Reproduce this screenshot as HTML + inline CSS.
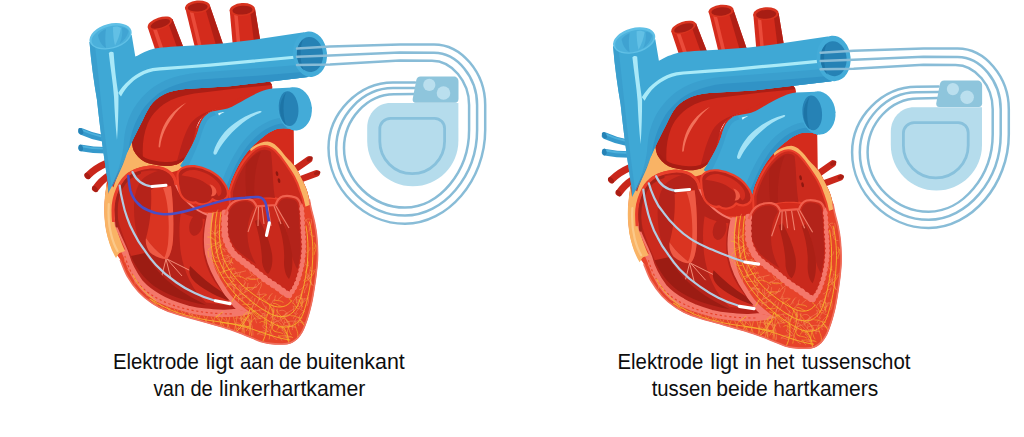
<!DOCTYPE html>
<html lang="nl">
<head>
<meta charset="utf-8">
<title>Elektrode positie</title>
<style>
html,body{margin:0;padding:0;background:#fff;}
body{width:1024px;height:437px;overflow:hidden;font-family:"Liberation Sans",sans-serif;}
svg{display:block;}
text{font-family:"Liberation Sans",sans-serif;fill:#0d0d0d;}
</style>
</head>
<body>
<svg width="1024" height="437" viewBox="0 0 1024 437">
<defs>
<clipPath id="wallclip"><path d="M107,182 C106.6,185.8 104.8,197.8 104.5,205.0 C104.2,212.2 104.8,219.5 105.5,225.0 C106.2,230.5 107.4,234.1 108.5,238.0 C109.6,241.9 110.7,245.8 112.0,248.5 C113.3,251.2 115.1,252.5 116.5,254.5 C117.9,256.5 118.8,256.9 120.6,260.5 C122.4,264.1 124.4,271.0 127.5,276.3 C130.6,281.6 134.8,287.7 139.0,292.3 C143.2,296.9 147.7,300.4 152.6,303.7 C157.5,306.9 160.7,308.9 168.6,311.8 C176.5,314.7 189.8,318.0 200.0,321.0 C210.2,324.0 221.3,326.9 230.0,329.8 C238.7,332.7 246.7,336.2 252.0,338.3 C257.3,340.4 258.9,341.3 262.0,342.2 C265.1,343.1 266.9,343.5 270.3,343.9 C273.7,344.3 279.2,344.6 282.6,344.5 C286.0,344.4 288.4,344.2 290.9,343.2 C293.4,342.2 295.8,340.6 297.7,338.7 C299.6,336.8 301.3,334.2 302.6,331.9 C303.9,329.6 304.6,327.6 305.6,325.0 C306.6,322.4 307.6,319.3 308.6,316.0 C309.6,312.7 310.6,308.8 311.5,305.0 C312.4,301.2 313.1,297.2 313.8,293.0 C314.5,288.8 315.2,284.2 315.8,280.0 C316.4,275.8 316.8,272.2 317.2,268.0 C317.6,263.8 318.0,260.3 318.0,255.0 C318.0,249.7 317.5,241.6 317.0,236.2 C316.5,230.8 315.7,227.1 314.8,222.5 C313.9,217.9 312.2,212.4 311.4,208.7 C310.5,204.9 310.0,201.4 309.7,200.0 C307.7,194.2 305.8,190.0 305.0,188.0 L300,204 L205,209 L205,252 L100,252 Z"/></clipPath>
<g id="heart">
<!-- small side vessels (behind) -->
<g stroke-linecap="round" fill="none">
  <path d="M81.500,131.500 C88,134.500 96,137 104,138.600" stroke="#3599cb" stroke-width="6.600"/>
  <path d="M81.500,148 C89,149.500 98,150.300 106,150.300" stroke="#3599cb" stroke-width="6.600"/>
  <path d="M82,130 C88,132.800 95,135 101,136.300" stroke="#4cb0dc" stroke-width="1.800"/>
  <path d="M82,146.300 C89,147.800 96,148.500 103,148.600" stroke="#4cb0dc" stroke-width="1.800"/>
  <ellipse cx="80.800" cy="131.200" rx="2.200" ry="3.400" transform="rotate(-25 80.800 131.200)" fill="#2682b5" stroke="none"/>
  <ellipse cx="80.800" cy="147.800" rx="2.200" ry="3.400" transform="rotate(-10 80.800 147.800)" fill="#2682b5" stroke="none"/>
  <path d="M88,175.500 C93,170.500 99,166.500 106,163.500" stroke="#c9271b" stroke-width="7"/>
  <path d="M95.500,188.500 C99,183.500 103.500,179 109,175.500" stroke="#c9271b" stroke-width="7"/>
  <ellipse cx="87.400" cy="176" rx="2.200" ry="3.600" transform="rotate(-40 87.400 176)" fill="#a81d14" stroke="none"/>
  <ellipse cx="95" cy="189" rx="2.200" ry="3.600" transform="rotate(-38 95 189)" fill="#a81d14" stroke="none"/>
  <path d="M294,170 L309,159.500" stroke="#c9271b" stroke-width="6.800"/>
  <path d="M300,179.500 L316.500,173.300" stroke="#c9271b" stroke-width="6.600"/>
  <ellipse cx="309.700" cy="159" rx="2" ry="3.400" transform="rotate(55 309.700 159)" fill="#a81d14" stroke="none"/>
  <ellipse cx="317.200" cy="173" rx="2" ry="3.300" transform="rotate(69 317.200 173)" fill="#a81d14" stroke="none"/>
</g>
<!-- top arteries -->
<g>
  <path d="M147.6,27 L160,64 L186,54 L172.4,19 Z" fill="#d42b1c"/>
  <path d="M167.500,21 L180.500,57 L186,54 L172.400,19 Z" fill="#b01f15"/>
  <path d="M152.5,28 L164,62 L167.5,60.5 L156,27 Z" fill="#ea4b3a"/>
  <ellipse cx="160" cy="23.300" rx="12.800" ry="5.800" transform="rotate(-18 160 23.300)" fill="#d8331f"/><ellipse cx="160.300" cy="23.800" rx="10.200" ry="3.900" transform="rotate(-18 160.300 23.800)" fill="#a81d14"/>
  <path d="M185,7 L196,52 L224,47 L210,6 Z" fill="#d42b1c"/>
  <path d="M205,7.500 L217,48.500 L224,47 L210,6 Z" fill="#b01f15"/>
  <path d="M189.5,11 L199,50 L202.5,49.5 L193,10.5 Z" fill="#ea4b3a"/>
  <ellipse cx="197.500" cy="6.800" rx="12.600" ry="6.200" transform="rotate(-5 197.500 6.800)" fill="#d8331f"/><ellipse cx="197.700" cy="7.300" rx="10" ry="4.200" transform="rotate(-5 197.700 7.300)" fill="#a81d14"/>
  <path d="M229.7,10 L233,48 L261,45 L255,9 Z" fill="#d42b1c"/>
  <path d="M250,10 L254.500,46 L261,45 L255,9 Z" fill="#b01f15"/>
  <path d="M234,13 L237,46 L240.5,46 L237.5,13 Z" fill="#ea4b3a"/>
  <ellipse cx="242.300" cy="9.600" rx="12.700" ry="6.500" transform="rotate(-4 242.300 9.600)" fill="#d8331f"/><ellipse cx="242.500" cy="10.100" rx="10.100" ry="4.400" transform="rotate(-4 242.500 10.100)" fill="#a81d14"/>
</g>
<!-- ===== heart body ===== -->
<g id="body">
  <path id="sil" d="M107,182 C106.6,185.8 104.8,197.8 104.5,205.0 C104.2,212.2 104.8,219.5 105.5,225.0 C106.2,230.5 107.4,234.1 108.5,238.0 C109.6,241.9 110.7,245.8 112.0,248.5 C113.3,251.2 115.1,252.5 116.5,254.5 C117.9,256.5 118.8,256.9 120.6,260.5 C122.4,264.1 124.4,271.0 127.5,276.3 C130.6,281.6 134.8,287.7 139.0,292.3 C143.2,296.9 147.7,300.4 152.6,303.7 C157.5,306.9 160.7,308.9 168.6,311.8 C176.5,314.7 189.8,318.0 200.0,321.0 C210.2,324.0 221.3,326.9 230.0,329.8 C238.7,332.7 246.7,336.2 252.0,338.3 C257.3,340.4 258.9,341.3 262.0,342.2 C265.1,343.1 266.9,343.5 270.3,343.9 C273.7,344.3 279.2,344.6 282.6,344.5 C286.0,344.4 288.4,344.2 290.9,343.2 C293.4,342.2 295.8,340.6 297.7,338.7 C299.6,336.8 301.3,334.2 302.6,331.9 C303.9,329.6 304.6,327.6 305.6,325.0 C306.6,322.4 307.6,319.3 308.6,316.0 C309.6,312.7 310.6,308.8 311.5,305.0 C312.4,301.2 313.1,297.2 313.8,293.0 C314.5,288.8 315.2,284.2 315.8,280.0 C316.4,275.8 316.8,272.2 317.2,268.0 C317.6,263.8 318.0,260.3 318.0,255.0 C318.0,249.7 317.5,241.6 317.0,236.2 C316.5,230.8 315.7,227.1 314.8,222.5 C313.9,217.9 312.2,212.4 311.4,208.7 C310.5,204.9 310.0,201.4 309.7,200.0 C308.8,197 308,194 307,190.8 C305.500,186.500 303.600,182.300 301.500,178.500 C299.500,174 297.300,170 294.600,166 L293.900,164.500 L293.500,128 L258,99 L228,150 L190,150 L134,146 Z" fill="#e7432a"/>
  <!-- upper region base red -->
  <path d="M107,182 L134,146 L190,150 L228,150 L258,99 L293.500,128 L293.900,164.500 L294.600,166 C297.300,170 299.500,174 301.500,178.500 C303.600,182.300 305.500,186.500 307,190.800 C308,194 309,198 310,206 L225,212 L178,212 L112,240 C105,222 104,200 107,182 Z" fill="#d42b1c"/>
  <path d="M122,150 L140,128 L148,160 L118,178 Z" fill="#f9b365"/>
  <!-- peach: left wedge + band beneath aorta -->
  <path d="M133,146 C131,153 127,160 122,167 C116,177 112,190 110,204 L107,182 C104,198 103,214 106,230 C108,240 111,250 116,258 L121,250 C115,236 113,220 114,205 C115,192 119,181 126,174.5 C132,169.5 140,166.5 150,165.5 C158,165.5 166,168 171,172.5 L186,168 L183,160 C176,166 160,167 148,161 C141,157 136,152 133,146 Z" fill="#f9b365"/>
  <!-- peach: band above left atrium -->
  <path d="M250,148.700 C256,144.500 262,141.600 267.600,141.600 C271,141.800 274,143.600 276.800,146.200 C280,149 283,152.800 285.500,156.300 C289,160 292,163 294.600,166 C297.300,170 299.500,174 301.500,178.500 C303.600,182.300 305.500,186.500 307,190.800 C308.300,195 309.300,200 310,205 L304.500,207 C303.500,201 302,196 300,191 C298.500,186 296.500,181 294,176.500 C291.500,172 288.500,168 285.500,163.500 C282.500,159 279,154.500 275,151 C271,147.500 266,145.500 261,146.500 C257,147.500 254,149.500 251,152 Z" fill="#f9b365"/>
</g>
<!-- ===== aorta ===== -->
<g id="aorta">
  <path d="M133.5,150 C130,140 132,127 138,116 C143,106 150,98 160,92.5 C170,87 186,85 200,84 L266,79.500 C270,81 272.500,84 272.400,88.400 L259.500,100 L230,106.5 C224,107.5 219,108.5 215.7,109.5 C210,111.5 206,113.5 203,116 C199,120 196.5,125 195.6,130.4 C194,137 193.5,140 193,142 C190,150 186,156 183,160.6 C178,165 171,166.5 165,166 C157,165.5 150,164 145,162 C140,159.5 136,155 133.5,150 Z" fill="#d12a1c"/>
  <path d="M186,163 L194,132 L203,115 L222,106 L262,88 L264,100 L228,116 L208,136 L200,168 Z" fill="#d12a1c"/>
  <!-- dark left band -->
  <path d="M133.5,150 C130,140 132,127 138,116 C143,106 150,98 160,92.5 C170,87 186,85 200,84 L266,79.500 C269,80.500 271,82.500 272,85 L232,89 L203,92.500 C191,93.500 180,96 171,100 C160,105.500 152,113.500 147.500,124 C143.500,134 142,146 143,158.500 C139,156.500 135.500,153.500 133.500,150 Z" fill="#ac1e15"/>
  <!-- light highlight streak -->
  <path d="M158.6,146 C159.5,135 163,124.5 170,116 C174.5,110.5 180,106 186.5,102.6 C181,107 176,112 172.5,117.5 C166,126 161.5,136 160.2,146.5 C159.8,148 158.5,148 158.6,146 Z" fill="#f2705a"/>
  <!-- subtle dark right band -->
  <path d="M176,165 C180,150 183,137 189,126 C194,118 202,112.5 215.7,109.5 C210,111.5 206,113.5 203,116 C199,120 196.5,125 195.6,130.4 C194,137 193.5,140 193,142 C190,150 186,156 183,160.6 C181,162.5 178.5,164 176,165 Z" fill="#b9221a"/>
  <!-- base shadow -->
  <path d="M133.5,150 C136,155 140,159.5 145,162 C150,164 157,165.5 165,166 C171,166.5 178,165 183,160.6 L184.5,157 C179,161 172,162.5 165,162 C157,161.5 150,160 145.5,158 C141,155.5 137.5,152 135,148 Z" fill="#a81d14"/>
</g>

<!-- ===== vena cava + horizontal branch ===== -->
<g id="vc">
  <path d="M89.5,42 C91,62 94,82 97,100 C100,128 104,158 108,183 L108.6,193.2 L128.3,150 C131,144 136,133 142.7,120.3 C146,113 149,107 152.7,102.7 C157,98 162,95 167.9,92.6 C174,90.5 180,89.5 185.5,88.9 L230,86.3 L253,83.5 L308,77 L326,54 L304,32.2 L250,40.3 L225,43.3 L193.6,45.6 L170.8,46.7 C164,47.2 159,47.8 154.7,48.5 C151,49.5 148,50.5 144.5,51.9 C141,53.5 138,55.5 135.3,56.5 L131.7,35 Z" fill="#3fa8d5"/>
  <path d="M108.6,193.2 L128.3,150 C131,144 136,133 142.7,120.3 C146,113 149,107 152.7,102.7 C157,98 162,95 167.9,92.6 C174,90.5 180,89.5 185.5,88.9 L230,86.3 L253,83.5 L308,77 L310,64 L253,68.5 L200,72.5 C186,73.5 172,77 162,82 C150,88 141,97 134,108 C128,118 125,129 124,140 C123,160 116,178 108.6,193.2 Z" fill="#3a9fce"/>
  <path d="M108.6,193.2 L128.3,150 C131,144 136,133 142.7,120.3 C146,113 149,107 152.7,102.7 C157,98 162,95 167.9,92.6 C174,90.5 180,89.5 185.5,88.9 L230,86.3 L253,83.5 L308,77 L309,71.5 L253,76 L200,79.5 C189,80.5 178,83.5 169,87.5 C158,92.5 149,100.5 142,110.5 C136,120 132,130 130,140 C128,154 120,174 108.6,193.2 Z" fill="#3193c6"/>
  <!-- left shadow on VC -->
  <path d="M89.5,42 C91,62 94,82 97,100 C100,128 104,158 108,183 L108.6,193.2 L112,190 C108,160 104,130 101,100 C99,82 97,62 95,46 Z" fill="#3a9fce"/>
  <!-- darker band above highlight -->
  <path d="M136,57 C139,58 143,56 147,53 L150,57 C141,63 134,66 127,74 C122,80 119,86 117.500,92 L114,78 C118,70 125,63 136,57 Z" fill="#41a5d5" opacity="0.0"/>
  <!-- highlights -->
  <path d="M108.800,53 C110,51.500 112.500,51.500 113.600,52.500 C114.500,66 116,79 118,92 L118.500,96 C118.500,110 118,126 117,140 C115.500,126 114.500,110 114,97 C113,82 110.300,67 108.800,53 Z" fill="#a9e8f8"/>
  <path d="M118.200,93 C119.500,90.800 121,88.800 122.600,86.800 C124.500,84.500 126.500,82.300 128.800,80.400 C130.800,78.500 133,76.800 135.400,75.300 C137.800,73.700 140.300,72.300 143,71 C146,69.700 149.200,68.800 152.500,68.100 C157,67.300 161.700,66.900 166.500,66.700 L185,65.400 L210,63.500 L253,59.500 L297,55.400 L297,58.500 L253,62.700 L210,66.700 L185,68.600 L167,69.900 C162.300,70.100 157.700,70.600 153.300,71.300 C150.200,72 147.300,72.900 144.600,74 C142,75.200 139.700,76.500 137.400,78 C135.200,79.500 133.100,81.100 131.200,82.900 C129,84.800 127.200,86.900 125.500,89.200 C123.800,91.400 122.300,93.900 121,96.500 Z" fill="#a9eaf8"/>
  <!-- VC opening -->
  <ellipse cx="110.600" cy="36.300" rx="21.600" ry="12.400" transform="rotate(-15 110.600 36.300)" fill="#60c0e6"/>
  <ellipse cx="110.700" cy="36.900" rx="19.600" ry="10.400" transform="rotate(-15 110.700 36.900)" fill="#4bb0db"/>
  <path d="M113,27 C116,26 119,26.500 121,28 C120,34 118,40 115,45.500 C113.500,40 113,33 113,27 Z" fill="#62c0e5"/>
  <path d="M98,35 C100,32 103,30 106,29 C105,35 105,42 106,48 C102,46 99,41 98,35 Z" fill="#3a9dcd" opacity="0.700"/>
  <path d="M122,27.500 C125,27.500 127.500,29 128.500,31.500 C127.500,36 124,40.500 119.500,44 C122,39 122.800,33 122,27.500 Z" fill="#3a9dcd" opacity="0.600"/>
  <!-- horizontal pipe end -->
  <ellipse cx="310" cy="54.200" rx="17" ry="22.800" transform="rotate(-5 310 54.200)" fill="#43abd8"/>
  <ellipse cx="310" cy="54.500" rx="13" ry="17.500" transform="rotate(-5 310 54.500)" fill="#2682b5"/>
  <path d="M303,39.500 C298,44 296.500,50 297,56 C297.500,62 300,67 304,70.500 C301,64 300.500,58 300.500,54 C300.500,49 301,44 303,39.500 Z" fill="#1d74a6"/>
</g>
<!-- ===== pulmonary artery ===== -->
<g id="pa">
  <path d="M180.300,165.700 C186,157 191,148 194.600,140 C196,137 196.500,135 197.300,133.300 C198.500,129 199.500,125.500 201,122.300 C202.500,119 204.500,116.500 206.500,115 C208.500,113 211,112 213.800,111.300 C217,110.500 220,110 223,109.500 C226,109 229,108 232,106.700 C236,104.500 240.500,102 245,99.400 C250,96.500 255,94 259.600,92 C264,90 268,89 272.400,88.400 L292.600,87.500 L312,108 L294,130.500 L290.500,129 C286,128 281,128 276.800,129 C272,130.500 267,133.500 263,137 C259,140 255,143.500 251.600,147.300 C247,152 243.500,157 240.200,162.200 C237,167.500 234.500,173 232.200,178.200 C230.500,182 229.500,185.500 228.700,190 C212,186 195,177 180.300,165.700 Z" fill="#3fa8d5"/>
  <!-- inner (lower) shadow bands -->
  <path d="M228.700,190 C229.500,185.500 230.500,182 232.200,178.200 C234.500,173 237,167.500 240.200,162.200 C243.500,157 247,152 251.600,147.300 C255,143.500 259,140 263,137 C267,133.500 272,130.500 276.800,129 C281,128 286,128 290.500,129 L294,130.500 L297,120 L280,118 C272,119 264,123 257,128 C250,133 244,140 239,147 C233,156 228,166 224,176 C222,181 220.500,184.500 219.500,187.500 Z" fill="#3a9fce"/>
  <path d="M228.700,190 C229.500,185.500 230.500,182 232.200,178.200 C234.500,173 237,167.500 240.200,162.200 C243.500,157 247,152 251.600,147.300 C255,143.500 259,140 263,137 C267,133.500 272,130.500 276.800,129 C281,128 286,128 290.500,129 L294,130.500 L296,125 L281,123.500 C274,124.500 267,128 261,132.500 C254,138 248,144.500 243.500,151.500 C238,160 233.500,169 230,178 C228,183 226,186.500 224.500,189 Z" fill="#3193c6"/>
  <!-- outer-left shadow -->
  <path d="M180.300,165.700 C186,157 191,148 194.600,140 C196,137 196.500,135 197.300,133.300 C198.500,129 199.500,125.500 201,122.300 C202.500,119 204.500,116.500 206.500,115 C208.500,113 211,112 213.800,111.300 L216,115 C212,116 209,118 207,121 C204,126 202,132 200,139 C196,150 191,161 186,170 Z" fill="#3a9fce"/>
  <!-- highlight -->
  <path d="M213.500,152 C217,140 225,130 235,123 C242,118 250,113.500 259.500,111 C262,110.500 262.500,112 260,113 C252,116 245,120.500 239,126 C229,134.500 221.500,144 216.500,154 C215,155.500 213,154.500 213.500,152 Z" fill="#a3e3f6"/>
  <path d="M218,113.500 C220,112.500 222.500,112 224.500,112 C222.500,113 220.500,114 219,115.500 Z" fill="#d8f4fb"/>
  <!-- end ring -->
  <ellipse cx="294.900" cy="108.800" rx="17" ry="21.700" transform="rotate(-5 294.900 108.800)" fill="#43abd8"/>
  <ellipse cx="288.600" cy="108.600" rx="9.800" ry="17.400" transform="rotate(-5 288.600 108.600)" fill="#2682b5"/>
  <path d="M286,92.500 C282,97 280,103 280,109 C280,115 282,121 286,125 C284,119 283.500,113 283.500,108.500 C283.500,103 284,97.500 286,92.500 Z" fill="#1d74a6"/>
</g>

<!-- ===== walls ===== -->
<g id="walls">
  <!-- RV outer wall + floor (pink band, tapering to the RV tip) -->
  <path d="M127.500,250 C130,262 135,272 142,281.500 C147,287 153,291.500 160,295.300 C163.500,297.400 167.500,299.300 171.400,301 C177,303.200 182.500,305 188.600,306.700 C194,308 200,309 205.800,309.600 C211,310.200 217,310.500 223,310.700 C228,310.800 233,310.500 237.800,309.600 L251.500,312.800 L251.500,313.600 C244,315.800 236,317 228.600,317 C223,317.200 217,317 211.500,316.500 C205.500,316 199.800,315.300 194.300,314.200 C188.500,313 182.800,311.500 177.200,309.600 C171.200,307.800 165.500,305.700 160,303.300 C155.500,301.300 151.500,298.800 148,296 C144,293 140.800,289.700 138,286 C134.800,282 132.200,277.700 130,273 C127.500,268.300 125.600,263.300 124,258 L120,249 Z" fill="#f4776a"/>
  <path d="M125,256 C128,268 134,279 142,287.500 C152,297 166,303.500 182,308 C198,312 214,314 232,313.800" fill="none" stroke="#e7432a" stroke-width="1.200" stroke-dasharray="2.200 2.600"/>
  <path d="M108.600,192.500 C106,200 104.800,215 106,230 C108,240 111,248 115.500,254.500 L125,251 C119,238 114,222 113.500,210 C113.500,203 115,196 117,190 L112,186 Z" fill="#f9b365"/>
  <path d="M108.800,204 C108,215 108.800,225 111,234 C112.500,240 114.500,246 117.500,251" fill="none" stroke="#fbc98a" stroke-width="2.200" stroke-linecap="round"/>
  <!-- septum RV-side pink border (polygon, tapering into the RV tip) -->
  <path d="M208,213 C205.500,228 204.500,242 206,253 C209,268 216,280 221.800,288.400 C224,292 226.300,296 228.600,299.900 C231.500,303.500 234.600,306.800 237.800,309.600 L251.500,313.200 C247.500,310.500 243.700,307.600 240,304.500 C236.800,301.700 233.800,298.700 231,295.500 C228.500,292.200 226.200,288.700 224,285 C221.300,281 219,277 217,273 C215.300,269.500 214,266 213,262 C212.200,258 211.700,254 211.500,250 C211,245.500 211,241 211,236 C211,232 211.500,228 212,224 C212.500,220.500 213,217 213.800,213 Z" fill="#f4776a"/>
</g>

<g clip-path="url(#wallclip)">
<g id="net2" fill="none" stroke-linecap="round">
 <path stroke="#f68e58" stroke-width="0.55" d="M146.3,295.0C148.5,296.2 151.1,296.6 153.1,298.3M217.9,210.0C217.1,212.7 215.4,213.4 212.9,212.2M306.3,284.8C302.6,284.5 303.2,289.9 299.6,289.8M233.6,267.6C231.2,270.1 230.7,273.2 230.7,276.5M231.4,277.6C233.8,276.7 233.9,273.5 236.3,272.6M235.4,285.1C231.5,284.5 228.0,284.9 225.2,288.0M256.9,294.4C259.9,295.9 262.7,293.1 265.7,294.1M208.7,228.1C212.2,228.3 211.8,232.7 214.7,233.5M293.4,318.3C293.9,316.0 295.7,315.0 297.3,313.7M254.7,276.2C253.7,274.1 250.0,275.0 249.9,271.9M272.6,325.9C273.3,321.9 274.5,318.0 276.2,314.3M315.4,269.4C313.7,271.6 311.8,271.7 309.6,270.0M307.0,278.0C308.3,280.2 312.0,280.7 311.6,284.1M277.9,318.2C276.3,315.2 277.6,312.0 277.3,309.0M296.8,321.2C292.6,321.0 288.3,320.8 284.4,322.8M248.7,330.8C250.3,329.2 249.3,327.1 249.8,325.3M282.0,340.6C280.2,339.3 280.0,337.1 278.7,335.6M246.5,277.8C248.2,276.6 250.9,277.8 252.0,275.3M222.8,277.3C226.7,277.5 230.7,276.7 234.3,278.7M227.7,250.0C226.1,249.5 224.6,248.2 222.8,249.4M268.6,331.2C266.6,331.4 264.9,332.5 263.1,333.2M223.1,271.0C226.3,270.9 229.4,270.6 231.6,267.8M250.4,313.4C251.0,310.8 254.3,311.9 255.2,309.8M311.1,219.3C313.0,223.3 309.0,226.7 310.0,230.6M299.0,318.2C300.6,320.7 296.7,322.9 298.6,325.4M304.4,292.7C303.5,289.0 308.1,287.2 307.5,283.6M284.9,325.4C282.3,322.8 280.4,319.8 279.8,316.0M309.9,247.7C310.4,251.1 307.4,251.8 305.5,253.3M217.0,232.7C214.0,235.0 211.1,233.7 208.2,232.4M248.0,304.0C249.0,302.3 250.2,300.7 252.2,300.0M283.7,328.4C281.6,324.5 278.9,321.1 274.8,319.1M221.2,274.7C223.5,273.7 224.7,272.0 224.3,269.4M242.1,291.6C241.1,289.5 237.9,288.5 239.2,285.4M311.9,273.2C309.2,275.9 305.7,277.7 303.5,280.9M239.9,293.8C244.0,294.0 247.0,296.2 249.7,299.1M255.0,298.4C254.0,301.9 253.3,305.5 252.2,309.0M310.4,267.1C311.4,271.1 307.3,274.5 309.0,278.6M266.8,321.0C266.8,324.0 269.0,324.6 271.2,325.2M294.2,308.6C291.5,310.8 288.3,312.1 285.4,314.0M242.4,324.3C244.1,326.7 244.8,329.3 244.1,332.2M286.4,325.7C289.4,323.8 291.7,327.5 294.5,326.8M253.0,335.2C252.9,330.9 252.8,326.6 250.7,322.6M300.7,294.2C301.5,297.6 300.0,300.1 297.9,302.4M245.4,327.2C243.0,328.9 240.3,329.3 237.4,328.5M307.1,273.5C310.0,276.9 310.8,281.1 312.0,285.2M293.4,306.3C295.3,308.4 297.1,305.4 298.9,306.2M281.0,318.7C278.8,322.1 274.8,321.6 271.6,322.9M279.0,311.0C282.2,309.4 284.7,310.2 286.7,313.0M267.7,331.7C267.7,328.4 262.5,329.5 262.6,326.0M307.5,258.4C307.9,260.6 307.5,262.9 307.5,265.2M264.3,318.8C265.4,314.7 264.6,310.4 266.1,306.5M188.7,313.2C191.6,313.0 192.5,316.7 195.3,316.8M251.4,308.4C253.1,307.3 252.0,304.2 254.7,303.7M280.5,321.2C282.7,317.3 286.7,316.3 290.6,315.2M272.2,335.8C273.4,337.4 274.9,338.7 276.9,339.5M236.4,295.1C239.4,296.5 238.5,299.1 238.3,301.5M217.3,225.0C216.5,228.5 213.7,231.6 215.1,235.6M310.1,232.2C309.9,235.1 311.2,236.6 314.3,236.3M240.6,319.0C240.9,322.3 244.9,323.3 245.3,326.5M286.0,319.7C288.4,321.6 288.7,324.5 289.3,327.2M233.0,263.8C231.0,261.1 229.1,258.3 227.6,255.4M240.3,272.6C239.1,274.5 239.2,276.2 240.8,277.8M227.5,285.2C227.7,282.3 232.3,284.1 232.2,280.9M313.6,286.0C310.6,282.8 307.0,279.9 306.9,274.9M233.2,286.4C233.1,288.3 234.3,289.7 234.7,291.5M244.2,325.5C244.1,323.4 243.8,321.3 245.4,319.5M245.5,282.7C243.9,283.6 243.7,285.6 242.5,286.8M222.7,261.1C225.3,265.0 222.0,269.5 223.7,273.5M238.1,275.0C238.3,272.7 234.7,273.4 234.9,271.1M294.6,313.3C291.6,311.4 295.2,308.0 293.0,306.0M206.9,236.1C210.6,237.3 214.1,238.8 215.5,242.9M266.5,301.1C268.9,299.6 268.5,296.2 270.9,294.7M221.1,241.6C220.9,237.7 216.0,237.6 215.2,234.2M261.5,283.8C261.6,287.6 258.4,290.2 257.8,293.7M243.3,301.4C241.0,299.7 243.4,297.6 242.8,295.8M280.2,318.3C280.8,315.0 285.4,316.4 286.3,313.3M305.6,219.7C308.6,223.1 310.1,226.9 309.0,231.5M257.5,279.3C256.1,281.4 260.2,282.3 258.6,284.5M215.3,252.9C216.2,249.0 221.0,247.3 221.0,242.8M274.2,301.4C275.3,299.6 274.4,297.4 275.6,295.7M216.6,257.4C217.8,254.5 220.6,253.6 222.8,251.9M267.5,309.1C265.0,307.1 263.1,304.7 261.9,301.8M309.2,218.9C306.1,218.5 305.1,220.6 304.5,223.1M264.8,330.6C262.1,331.4 259.3,331.8 257.3,334.1M256.6,322.9C255.6,319.2 253.2,316.2 251.8,312.8M259.2,292.0C259.6,294.5 259.4,297.0 259.2,299.5M247.4,312.6C244.9,314.8 240.8,315.1 239.8,319.0M273.0,335.1C271.0,336.9 269.5,334.3 267.7,334.5M244.4,319.6C241.2,319.7 238.5,316.6 235.1,318.4M264.9,335.0C262.3,336.0 260.4,332.7 257.8,333.8M271.9,316.9C270.0,315.0 268.6,312.7 266.5,310.9M282.2,330.3C281.2,326.5 285.3,323.9 284.4,320.2M307.1,295.7C309.1,299.0 308.9,302.4 307.1,305.7M295.5,314.0C296.0,310.2 300.0,308.6 301.0,305.2M127.8,269.5C129.7,271.9 131.6,274.4 133.5,276.8M238.4,299.4C240.9,297.3 245.1,299.0 246.9,295.5M233.8,292.7C232.1,289.8 235.9,288.0 235.4,285.3M238.2,296.0C241.2,292.5 240.7,288.3 241.2,284.2M241.9,301.3C239.7,298.6 235.6,298.7 233.7,295.6M299.5,295.6C296.0,297.1 293.8,299.7 292.5,303.2M211.5,261.9C213.6,264.4 217.4,264.6 219.1,267.6M271.4,303.6C273.4,302.9 272.0,299.5 274.8,299.4M246.7,318.0C248.6,318.0 249.1,320.7 251.2,320.5M231.5,265.6C228.9,264.5 230.9,261.1 228.7,259.9M245.5,292.0C243.5,293.8 240.2,293.4 238.6,295.9M253.5,288.2C257.8,286.8 259.5,282.2 263.5,280.5M283.3,317.2C284.8,316.2 284.9,313.9 286.9,313.3M278.1,299.6C281.0,297.0 283.7,293.8 288.2,293.6M266.8,314.5C264.2,317.3 260.1,314.6 257.3,316.9M296.1,327.4C292.4,327.0 288.8,325.9 285.0,325.9M229.3,260.6C227.0,262.1 224.8,262.4 222.9,259.9M243.1,313.9C245.1,317.7 248.5,320.6 250.3,324.7M270.1,318.2C272.8,316.3 275.5,314.6 279.0,316.1M308.1,297.6C305.6,299.9 303.8,303.1 300.1,303.9M297.6,320.8C299.5,322.8 301.8,323.1 304.4,322.8M304.6,298.6C303.2,301.7 301.4,304.6 301.6,308.3M302.5,321.5C300.9,320.2 299.1,319.1 298.3,317.1M214.6,248.9C216.7,245.1 222.3,246.4 224.1,242.3M295.7,297.4C296.3,299.1 297.6,300.6 297.0,302.7M221.7,230.6C218.8,229.6 218.0,233.7 215.3,233.4M270.7,303.4C273.7,305.7 274.8,308.7 273.9,312.4M215.5,242.8C215.9,246.1 216.3,249.4 218.2,252.3M259.5,317.9C260.1,315.8 262.9,315.6 263.5,313.4M291.3,337.0C288.6,337.0 285.9,337.0 283.2,337.2M236.4,284.7C233.4,283.2 229.9,285.7 227.2,283.3M216.6,243.6C219.8,246.0 223.6,247.8 225.2,251.8M221.6,259.6C225.1,259.7 227.3,256.5 230.6,256.1M299.3,317.7C298.8,314.5 302.0,314.0 303.3,312.0M271.9,334.6C270.3,330.4 267.7,327.0 263.5,325.2M301.6,290.9C301.5,294.9 301.9,298.9 301.6,302.9M219.2,242.0C215.0,242.7 211.3,245.5 206.8,244.6M225.7,321.1C224.4,319.6 223.1,318.0 221.1,317.3M218.9,257.9C215.5,258.7 214.2,256.0 212.5,254.1M251.6,290.2C254.4,289.1 254.6,286.3 255.9,284.2M265.3,310.0C261.4,309.2 257.9,310.1 254.5,311.7M233.6,273.8C237.7,273.2 241.5,271.5 245.6,270.9M227.5,258.1C224.6,260.8 222.7,264.1 222.6,268.2M231.6,285.4C233.0,288.7 237.1,287.8 239.2,290.1M306.3,298.5C303.3,300.0 300.7,298.2 298.0,297.2M228.7,284.3C232.3,284.1 232.7,280.5 234.7,278.7M254.5,318.5C257.5,320.2 260.2,317.7 263.0,317.9M217.4,230.9C217.7,233.0 218.6,234.9 220.0,236.6M124.5,261.8C124.2,259.0 126.7,257.0 126.4,254.2M245.9,278.4C248.9,278.8 251.9,277.9 254.9,278.3M297.5,285.5C296.6,287.1 295.8,288.8 294.3,289.9M308.7,265.7C306.5,265.4 304.5,264.9 304.7,262.0M296.5,317.8C294.6,321.6 291.6,324.9 292.4,329.6M283.9,316.3C286.5,318.9 286.9,322.9 289.7,325.4M248.0,283.4C247.4,286.4 247.7,289.8 244.7,291.8M228.9,254.9C226.7,255.9 224.6,257.0 222.4,254.9M271.6,327.1C271.8,324.0 274.0,322.5 276.4,321.3M252.5,296.7C251.8,298.4 249.8,299.1 249.4,300.9M299.3,306.5C296.2,303.6 295.4,300.2 296.8,296.2M299.6,308.6C300.9,310.5 303.5,310.3 305.0,311.9M254.9,307.1C257.2,304.2 258.2,300.6 260.2,297.5M244.0,280.2C246.2,282.0 244.7,283.8 244.0,285.6M249.8,287.7C246.8,287.1 244.1,287.5 241.8,289.7M210.1,255.1C213.0,255.8 214.2,257.3 213.0,260.2M214.2,265.0C215.6,269.1 219.6,272.1 219.0,277.0M245.4,291.8C249.5,290.8 252.5,287.4 256.8,286.9M271.5,321.1C272.4,323.8 269.5,325.4 269.5,327.8M273.6,319.8C272.5,316.0 271.6,312.1 273.0,308.1M287.8,313.8C285.7,316.1 282.3,315.7 280.2,317.7M281.9,330.0C284.3,332.1 285.2,335.1 286.5,337.9M240.5,317.2C244.1,319.5 248.1,320.8 252.3,321.8M232.6,262.5C230.8,261.8 228.8,262.3 227.0,261.4M135.1,278.3C135.1,280.3 134.8,282.3 135.0,284.2M259.5,309.7C259.6,313.0 262.2,313.5 264.6,314.1M240.7,325.6C239.8,322.9 237.9,322.4 235.4,323.4M269.3,299.1C268.6,296.3 270.7,295.0 272.2,293.4"/>
 <path stroke="#f7b030" stroke-width="0.6" d="M301.8,298.3C303.6,300.8 302.0,303.1 301.6,305.5M278.3,336.2C283.1,335.7 288.0,335.0 292.6,337.5M291.3,315.7C295.3,314.6 298.1,319.2 302.1,318.1M231.9,258.5C231.7,263.7 226.3,265.0 224.1,268.7M216.4,241.1C213.7,239.7 211.9,236.0 207.9,237.2M270.8,325.6C272.4,320.5 273.2,315.3 273.2,309.9M291.3,334.8C288.9,332.4 290.0,328.3 287.2,326.1M314.5,271.5C312.6,275.8 309.7,279.2 305.5,281.4M314.3,254.3C314.3,251.1 317.4,248.3 315.7,244.9M289.5,294.6C288.9,297.1 288.3,299.7 291.7,300.9M223.8,326.1C223.2,321.4 217.4,321.0 216.2,316.8M266.5,294.7C263.3,295.5 261.9,299.0 258.8,299.9M234.2,281.7C233.5,279.5 230.9,278.6 230.6,276.2M269.3,312.3C266.1,315.9 263.4,319.6 264.4,324.8M247.6,312.0C243.0,312.9 244.2,318.6 240.6,320.2M208.4,249.7C210.8,245.2 216.6,245.7 219.5,241.9M289.3,325.2C287.2,330.2 286.3,335.2 287.6,340.6M253.1,287.6C250.2,288.0 246.8,287.1 244.7,290.2M272.6,324.4C271.7,327.8 272.1,330.5 275.9,331.8M149.9,299.4C152.9,300.2 153.6,304.7 157.5,304.2M275.1,300.3C277.8,301.0 280.8,300.1 283.2,302.3M218.2,261.3C215.4,261.2 212.3,262.3 210.9,258.6M247.2,280.2C243.4,277.8 239.8,274.8 234.9,276.3M273.4,330.6C276.3,332.8 280.2,331.7 283.0,333.7M265.8,323.0C263.9,322.3 262.0,319.8 259.8,322.6M260.9,277.1C257.1,279.4 253.1,280.4 248.7,278.9M244.6,319.4C249.7,318.2 250.3,311.4 255.7,310.7M283.1,318.1C286.9,318.9 288.8,321.6 290.1,324.9M276.3,309.9C277.5,313.4 281.1,315.1 282.5,318.4M246.2,317.1C244.1,321.0 240.5,323.8 238.3,327.6M235.0,268.9C229.6,268.1 225.3,271.8 220.2,272.5M252.7,303.3C249.7,306.3 246.0,302.9 242.8,304.4M280.0,325.6C282.9,327.7 284.1,331.0 286.2,333.6M314.5,242.9C315.5,245.0 315.7,247.0 314.1,248.9M277.0,323.5C278.7,325.7 279.5,327.9 276.8,330.0M258.7,316.0C254.3,313.4 251.6,308.2 246.0,307.7M297.9,299.8C301.7,300.7 300.2,305.2 302.7,306.9M221.7,245.1C218.6,246.9 217.9,250.4 216.0,253.1M295.3,321.9C293.5,327.3 299.6,331.6 297.5,337.0M285.1,325.8C283.1,328.2 280.8,328.8 278.2,326.7M305.4,272.5C306.8,269.0 308.4,265.6 308.2,261.8M273.4,303.3C276.6,302.9 278.3,305.9 281.1,306.4M254.9,317.6C250.5,321.0 249.3,326.6 246.3,330.9M263.3,298.8C267.1,302.4 271.0,305.8 272.2,311.2M298.3,308.9C295.2,308.1 295.4,304.4 293.1,302.9M251.1,308.1C252.8,313.0 255.5,317.0 260.7,318.9M265.6,320.1C267.7,315.5 268.5,310.5 270.4,305.9M273.5,325.4C269.4,329.1 270.5,334.4 269.2,339.0M273.4,314.7C274.5,310.6 272.5,307.9 269.3,305.7M207.9,251.3C209.2,253.0 206.8,255.7 209.2,257.2"/>
</g>

<!-- ===== walls with conduction network ===== -->
<g id="net" fill="none" stroke="#f7b92e" stroke-width="0.85" stroke-linecap="round">
  <!-- septum longitudinal -->
  <path d="M213,213 C210,228 210,243 213,256 C217,270 225,283 236,295 C248,307 262,318 276,325 C288,330 298,326 303,314 C308,300 311.500,282 312.500,262 C313.500,248 312.500,234 309.500,222"/>
  <path d="M217,212 C214,228 214.500,243 217.500,255 C221,268 229,280 239,290.500 C250,301 262,310 273,315 C284,319 292,316 297.500,306 C302.500,295 306,278 307.500,262 C308.500,248 308,236 306,226"/>
  <path d="M221,212 C218.500,228 219,243 222,254 C225,265 233,276 242,285 C252,294 262,301 272,305.500 C280,308.500 287,307 291.500,301"/>
  <!-- apex net -->
  <path d="M236,295 C231,304 224,312 216,317 M250,309 C248,318 243,326 237,331 M266,320 C267,328 266,335 263,341 M284,328 C287,333 289,338 289,344 M300,320 C304,324 306,328 307,332"/>
  <path d="M222,322.500 C236,324 250,328 262,332.500 C272,336 282,339 290,340 M150,299 C160,305 170,310 177,312.500 C190,317 204,320 217,321.500 C228,323 240,325 250,327 M133,275 C138,285 146,294 156,301"/>
  <!-- floor hatch -->
  <path stroke="#f7a040" stroke-width="0.6" d="M152.0,299.7 L155.5,303.7 M159.4,303.6 L162.9,307.6 M166.8,306.4 L170.3,311.2 M170.5,307.7 L168.0,310.1 M174.2,309.1 L177.7,314.9 M177.9,310.4 L175.4,313.8 M181.6,311.4 L185.1,317.3 M185.3,312.4 L182.8,316.6 M189.0,313.4 L192.5,319.8 M192.7,314.4 L190.2,319.0 M196.4,315.1 L199.9,321.5 M200.1,315.6 L197.6,321.1 M203.8,316.1 L207.3,323.0 M207.5,316.6 L205.0,322.5 M211.2,317.1 L214.7,324.5 M214.9,317.2 L212.4,324.0 M218.6,317.3 L222.1,326.5 M222.3,317.4 L219.8,325.8 M226.0,317.5 L229.5,328.7 M229.7,317.4 L227.2,328.0 M233.4,316.9 L236.9,330.9 M237.1,316.3 L234.6,330.2 M240.8,315.7 L244.3,333.3 M244.5,315.2 L242.0,332.5 M248.2,314.6 L251.7,335.8 M251.9,314.1 L249.4,335.0"/>
</g>

</g>
<!-- ===== cavities ===== -->
<g id="interior">
  <!-- RA + RV cavity -->
  <path id="rvcav" d="M113,210 C113,203 114.500,196 117.400,189.300 C119.500,184.500 121.500,181 124,178.300 C127,175 130.500,172.500 134.800,170.700 C139.500,168.800 145,167.500 150,167 C158,166.500 166,168.500 170.500,173 C174,176 175.500,180 176,185 C182,200 196,211 208,215 C205,228 204,242 206,253 C209,268 216,280 221.800,288.400 C224,292 226.300,296 228.600,299.900 C231.500,303.500 234.600,306.800 237.800,309.600 C233,310.500 228,310.800 223,310.700 C217,310.500 211,310.200 205.800,309.600 C200,309 194,308 188.600,306.700 C182.500,305 177,303.200 171.400,301 C167.500,299.300 163.500,297.400 160,295.300 C153,291.500 147,287 142,281.500 C135,272 130,262 127.500,252.500 C122,238 113,225 113,210 Z" fill="#b5231a" stroke="#f4776a" stroke-width="2" stroke-linejoin="round"/>
  <!-- lighter areas -->
  <path d="M117,208 C117.500,196 122,184 130,177 C137,172 148,169.500 158,171 C150,173 143,177 139,184 C134,193 133,208 135,224 C137,238 142,250 150,260 L132,258 C125,240 117,224 117,208 Z" fill="#cb2a1d"/>
  <path d="M181,212 C188,216 197,218.500 205,219 C202,232 202,246 204,256 C207,270 213,280 220,289 C224,295 228,300.500 233,306 L206,302.500 C192,290 183,270 180.500,250 C179,236 179,224 181,212 Z" fill="#d22d1f"/>
  <path d="M117,226 C116,217 116,209 116.700,203 C117.400,197 119,192 121.500,187.500 C123.500,183.500 126,180.500 129,178 C132,175.500 135.500,173.800 139.500,172.700" fill="none" stroke="#a3231a" stroke-width="3" stroke-linecap="round"/>
  <ellipse cx="196" cy="225" rx="6.500" ry="11" transform="rotate(15 196 225)" fill="#b5231a"/>
  <!-- tricuspid leaflet column -->
  <path d="M151,190 C156,186 164,184 171,186 C173,200 174,220 173,240 C172,250 170,256 167,259 C160,254 152,247 146,238 C150,224 152,206 151,190 Z" fill="#da3421"/>
  <path d="M163,188 C168,200 170,222 168,244 C167,250 166,255 164,258 L167,259 C170,256 172,250 173,240 C174,220 173,200 171,186 Z" fill="#ee5944"/>
  <path d="M146,238 C152,247 160,254 167,259 C163,259.500 156,257.500 150,252.500 C147,248.500 145,243 146,238 Z" fill="#ee5944"/>
  <g stroke="#f28b78" stroke-width="1" fill="none">
    <path d="M166,259 L160,283"/><path d="M166,259 L171,279"/><path d="M167,259 L182,276"/><path d="M167,259 L191,271"/>
  </g>
  <!-- RV floor dark trabeculae -->
  <path d="M131,256 C136,268 144,278.500 154,286 C166,294.500 184,301 206,305 C192,298 178,290 168,281 C158,272 150,262 145,253 Z" fill="#9c1c13"/>
  <path d="M190,266 C200,276 211,285 222,292 L230,301 C219,297.500 206,291 196,283 C190,278 188,272 190,266 Z" fill="#9c1c13"/>
  <!-- RA wall bright rim -->
  <path d="M113.500,222 C113,216 113,213 113,210 C113,203 114.500,196 117.400,189.300 C119.500,184.500 121.500,181 124,178.300 C127,175 130.500,172.500 134.800,170.700 C139.500,168.800 145,167.500 150,167 C158,166.500 166,168.500 170.500,173 C174,176 175.500,180 176,185" fill="none" stroke="#ea3f2b" stroke-width="3"/>

  <!-- pulmonary valve (below PA) -->
  <g transform="translate(0.5,3.2)">
  <path d="M177,172.500 C177,166 184,162 194,163 C204,164 216,170 222,178 C227,184 228.500,190 226.500,194 C223,199 216,199 212,196 C209,201 200,203 195,199 C189,201 181,196 179,188 C177.500,183 177,177 177,172.500 Z" fill="#b5231a" stroke="#ea3f2b" stroke-width="2.200" stroke-linejoin="round"/>
  <path d="M181,172 C184,167.500 190,166 196,167 C206,169 216,175 220,183 C222,188 221,192 218,193 C214,186 205,178 195,175 C190,173.500 185,173 181,172 Z" fill="#d22d1f"/>
  <path d="M209,181 C213,182 216,185 216,189 C215.500,192 213,193.500 210.500,193 C212.500,190 212,185 209,181 Z" fill="#ee5944"/>
  </g>
  <!-- left atrium -->
  <path id="la" d="M230,208 L229.500,192 C231,186 233,181 235,176.500 C238,170 242,163 247,157 C251,152 256,148 261,146.500 C266,145 271,147 275,150.500 C279,154.500 282.500,159 285.500,163.500 C288.500,168 291.500,172 294,176.500 C296.500,181 298.500,186 300,191 C302,196 303.500,201 304.500,207 L282,200 C272,197 262,197 252,199 C243,200.500 236,203 230,208 Z" fill="#cb2a1d" stroke="#ea3f2b" stroke-width="2" stroke-linejoin="round"/>
  <path d="M233,192 C235,184 238,176 243,168 C247,161 253,154 260,150.500 C264,149 268,149.500 271,152 C272,160 272.500,170 273,180 C273.500,187 274,193 275,198 C266,197 258,197.500 250,199.500 C243,201 238,203 233,206 Z" fill="#b3231a"/>
  <path d="M246,165 C250,159 255,154 261,151.500 C258,158 256,166 255,176 C254,184 254,191 254.500,198 L247,200 C245.500,190 245,176 246,165 Z" fill="#a51e15" opacity="0.600"/>
  <ellipse cx="277" cy="173.600" rx="1.300" ry="2.500" transform="rotate(-12 277 173.600)" fill="#8e1810"/>
  <ellipse cx="279" cy="180.600" rx="1.300" ry="2.500" transform="rotate(-12 279 180.600)" fill="#8e1810"/>
  <!-- LV cavity -->
  <path id="lvcav" d="M225,215 C227,209 229.500,205 232.600,202.600 C237,199.500 242,198.500 247.700,198.900 C252,199.500 255,202 256.600,206.400 L275.500,205 C277,200.500 279.500,197.500 283,196.300 C287,195.500 291.500,196 295.600,197.600 C298.500,199 300,201.500 300.600,205 C301.500,211 302,218 302,225.300 C302.500,233 303.200,240 303.200,248 C303,255 302,262 300.600,268 C298.800,276 296.500,283 293.500,288.500 L289.500,295.500 C285,293 280.500,290 276.500,286.500 C267,281 259.500,275 252.800,269 C245,263 238,258 232.600,253 C229,247 226,241 225,235.400 C224.500,228 224.500,221 225,215 Z" fill="#c9291c"/>

  <!-- darker arches -->
  <path d="M227.500,216 C229,210.500 231.500,207 234,205 C238,202 242.500,201 247,201.400 C250.500,202 253,204 254.300,207.500 C250,214 247,224 247.500,236 C248,246 251,256 256,264 C248,259 241,254 236,249 C232,243 229,238 228,232 C227,226 227,221 227.500,216 Z" fill="#b3231a"/>
  <path d="M277.800,206 C279,202 281,199.700 284,198.700 C287.500,198 291,198.500 294.500,200 C296.500,201 297.700,203 298.200,206 C299,212 299.500,219 299.500,226 C300,234 300.500,241 300.500,248 C300.300,256 299,263 297.500,269 C295,266 292,258 290,248 C288,236 285,220 277.800,206 Z" fill="#b3231a"/>
  <!-- papillary muscles -->
  <path d="M255,221 C258,232 262,246 262,262 C263,268 265,272 268,274 C272,270 273,262 272,254 C270,242 265,230 259,219 Z" fill="#ab2016"/>
  <path d="M278,222 C282,234 285,248 284,262 C284,270 286,276 289,279 C292,274 293,264 292,254 C290,242 287,230 282,220 Z" fill="#ab2016"/>
  <!-- LV pink scalloped border (sides + apex) -->
  <path d="M225,213 C224.500,221 224.500,228 225,235.400 C226,241 229,247 232.600,253 C238,258 245,263 252.800,269 C259.500,275 267,281 276.500,286.500 C280.500,290 285,293 289.500,295.500" fill="none" stroke="#f4776a" stroke-width="4.800" stroke-linejoin="round" stroke-linecap="round"/>
  <path d="M225,213 C224.500,221 224.500,228 225,235.400 C226,241 229,247 232.600,253 C238,258 245,263 252.800,269 C259.500,275 267,281 276.500,286.500 C280.500,290 285,293 289.500,295.500" fill="none" stroke="#f4776a" stroke-width="7" stroke-linejoin="round" stroke-linecap="round" stroke-dasharray="0.100 5.400"/>
  <path d="M289.500,295.500 L294,288.800 C297,283.300 299.400,276.300 301.200,268.300 C302.600,262.300 303.500,255 303.800,248 C303.800,240 303.100,233 302.600,225.300 C302.600,218 302.100,211 301.200,205" fill="none" stroke="#f4776a" stroke-width="3.200" stroke-linejoin="round" stroke-linecap="round"/>
  <path d="M289.500,295.500 L294,288.800 C297,283.300 299.400,276.300 301.200,268.300 C302.600,262.300 303.500,255 303.800,248 C303.800,240 303.100,233 302.600,225.300 C302.600,218 302.100,211 301.200,205" fill="none" stroke="#f4776a" stroke-width="5" stroke-linejoin="round" stroke-linecap="round" stroke-dasharray="0.100 4.600"/>
  <!-- mitral arches thin bright outline -->
  <path d="M225,215 C227,209 229.500,205 232.600,202.600 C237,199.500 242,198.500 247.700,198.900 C252,199.500 255,202 256.600,206.400 L275.500,205 C277,200.500 279.500,197.500 283,196.300 C287,195.500 291.500,196 295.600,197.600 C298.500,199 300,201.500 300.600,205" fill="none" stroke="#f0604e" stroke-width="2.200" stroke-linejoin="round"/>
  <!-- chordae LV -->
  <g stroke="#ef7f6c" stroke-width="1.100" fill="none">
    <path d="M256.600,207 L248,232"/><path d="M258.500,207 L258,226"/><path d="M262,207 L264,224"/><path d="M268,206.500 L271,226"/><path d="M274,206 L281,224"/><path d="M276,206 L289,228"/>
  </g>
  <!-- outer salmon edge line -->
  <path d="M120.6,260.5 C122.4,264.1 124.4,271.0 127.5,276.3 C130.6,281.6 134.8,287.7 139.0,292.3 C143.2,296.9 147.7,300.4 152.6,303.7 C157.5,306.9 160.7,308.9 168.6,311.8 C176.5,314.7 189.8,318.0 200.0,321.0 C210.2,324.0 221.3,326.9 230.0,329.8 C238.7,332.7 246.7,336.2 252.0,338.3 C257.3,340.4 258.9,341.3 262.0,342.2 C265.1,343.1 266.9,343.5 270.3,343.9 C273.7,344.3 279.2,344.6 282.6,344.5 C286.0,344.4 288.4,344.2 290.9,343.2 C293.4,342.2 295.8,340.6 297.7,338.7 C299.6,336.8 301.3,334.2 302.6,331.9 C303.9,329.6 304.6,327.6 305.6,325.0 C306.6,322.4 307.6,319.3 308.6,316.0 C309.6,312.7 310.6,308.8 311.5,305.0 C312.4,301.2 313.1,297.2 313.8,293.0 C314.5,288.8 315.2,284.2 315.8,280.0 C316.4,275.8 316.8,272.2 317.2,268.0 C317.6,263.8 318.0,260.3 318.0,255.0 C318.0,249.7 317.5,241.6 317.0,236.2 C316.5,230.8 315.7,227.1 314.8,222.5 C313.9,217.9 312.2,212.4 311.4,208.7 C310.5,204.9 310.0,201.4 309.7,200.0" fill="none" stroke="#f0705e" stroke-width="1.600" transform="translate(-0.4,-0.5)"/>
</g>

</g>
<g id="pacer">
<!-- lead coil: three lines from the vein to the header -->
<g fill="none" stroke="#88bcd7" stroke-width="2.5" stroke-linecap="round" stroke-linejoin="round">
  <path d="M297.0,48.5 L330.0,46.6 L400.0,44.4 L434.0,44.4 C461.4,44.4 485.2,72.6 485.2,105.0 L485.2,130.0 C485.2,180.2 447.9,223.8 405.0,223.8 C364.1,223.8 328.5,188.6 328.5,148.0 C328.5,113.0 358.5,82.5 393.0,82.5 L415.0,82.4"/>
  <path d="M297.0,56.8 L330.0,55.6 L400.0,52.6 L434.0,52.8 C457.1,52.8 477.1,77.1 477.1,105.0 L477.1,130.0 C477.1,175.8 443.6,215.6 405.0,215.6 C368.2,215.6 336.2,184.2 336.2,148.0 C336.2,116.0 362.6,88.1 393.0,88.1 L415.0,87.9"/>
  <path d="M297.0,65.0 L330.0,64.6 L400.0,60.6 L432.0,60.8 C451.8,60.8 469.1,81.4 469.1,105.0 L469.1,130.0 C469.1,171.5 439.3,207.6 405.0,207.6 C372.4,207.6 344.0,179.9 344.0,148.0 C344.0,119.2 367.2,94.2 394.0,94.2 L415.0,93.9"/>
</g>
<!-- body -->
<path d="M390.5,103 L458.4,103 L458.4,140.7 C458.4,165.900 438,186.300 412.800,186.300 C387.600,186.300 367.200,165.900 367.200,140.700 L367.200,127.700 C367.200,113.400 377.600,103 390.500,103 Z" fill="#b5dcec"/>
<path d="M390.500,118.400 L434.600,118.400 C440.100,118.400 444.600,122.900 444.600,128.400 L444.600,141.300 C444.600,159.200 430.100,173.700 412.200,173.700 C394.300,173.700 379.800,159.200 379.800,141.300 L379.800,129.100 C379.800,123.200 384.600,118.400 390.500,118.400 Z" fill="none" stroke="#88c1dc" stroke-width="2.800"/>
<!-- header -->
<path d="M420.500,76.400 L453.500,76.400 C456.500,76.400 458.500,78.400 458.500,81.400 L458.500,99 C458.500,101 457.200,102.800 455.200,102.800 L415.500,102.800 C413.500,102.800 412.400,101 412.700,99 L416.200,80.400 C416.700,77.900 418.200,76.400 420.500,76.400 Z" fill="#8ec5dc"/>
<circle cx="429.300" cy="84.900" r="6.100" fill="#badfee"/>
<circle cx="443.500" cy="93" r="6.800" fill="#badfee"/>

</g>
</defs>
<rect width="1024" height="437" fill="#ffffff"/>
<!-- left figure -->
<g>
<use href="#heart"/>
<g fill="none" stroke-linecap="round">
  <!-- RA lead -->
  <path d="M132.5,172 C136,180 143,185.5 152,186.5" stroke="#b3cce2" stroke-width="2.2"/>
  <path d="M152,186.6 L166,185.3" stroke="#ffffff" stroke-width="3"/>
  <!-- RV lead -->
  <path d="M119.7,185.5 C120.3,191 121.2,196 122.5,201.1 C123.7,207 125.2,212.5 127.1,217.6 C129,223.5 131.5,229 134.4,234.1 C137,239.5 140,244.3 143.5,248.7 C147,254 151,259.5 156,265 C162,271.5 169,277.5 176.4,282.5 C182,286.5 188,290 194.7,293 C200.5,295.8 207,298.3 213,300 L215.4,300.8" stroke="#b3cce2" stroke-width="2.2"/>
  <path d="M215.4,300.8 L230,303.6" stroke="#ffffff" stroke-width="3.2"/>
  <!-- LV lead (purple) -->
  <path d="M128.3,176 C128.8,182 129.5,186.5 130.3,190.3 C132,196 134.5,200 137.6,203.1 C140.5,206.5 144.5,209 148.6,210.5 C152.5,212.3 157,213.6 161.5,214.1 C166.5,214.6 171.5,214.2 176.1,213.2 C181.5,212.3 187,211 192,209.5 C202,206.5 212.5,203.3 222.7,200.6 C230,199 238,198.2 245,197.8 C250,197.3 254.5,197 258,196.9 C262.5,197.3 265,200 266,204.5 L269.2,222.8" stroke="#4a4ec6" stroke-width="2.5"/>
  <path d="M269.3,222.8 L266.5,235.4" stroke="#ffffff" stroke-width="3.2"/>
</g>

<use href="#pacer"/>
</g>
<!-- right figure -->
<g transform="translate(523.6,4.2)">
<use href="#heart"/>
<g fill="none" stroke-linecap="round">
  <!-- RA lead -->
  <path d="M132.5,172 C136,180 143,185.5 152,186.5" stroke="#b3cce2" stroke-width="2.2"/>
  <path d="M152,186.6 L166,185.3" stroke="#ffffff" stroke-width="3"/>
  <!-- septal lead -->
  <path d="M125.2,179.1 C126.5,184 128.5,189 130.7,193.8 C133,199 136,204 139.9,208.4 C143.5,213.5 148,218.5 152.7,223.1 C157,227.5 162,231.5 167.4,235 C172,238 178,241 185,244 C194,247.5 204,252 213,255 L221.3,257.8" stroke="#b3cce2" stroke-width="2.2"/>
  <path d="M221.3,257.8 L235,260" stroke="#ffffff" stroke-width="3.2"/>
  <!-- RV lead -->
  <path d="M119.7,185.5 C120.3,191 121.2,196 122.5,201.1 C123.7,207 125.2,212.5 127.1,217.6 C129,223.5 131.5,229 134.4,234.1 C137,239.5 140,244.3 143.5,248.7 C147,254 151,259.5 156,265 C162,271.5 169,277.5 176.4,282.5 C182,286.5 188,290.3 194.7,293.5 C200.5,296.5 207,299 213,300.8 L215.8,302.1" stroke="#b3cce2" stroke-width="2.2"/>
  <path d="M215.8,302.1 L230.4,304.5" stroke="#ffffff" stroke-width="3.2"/>
</g>

<use href="#pacer"/>
</g>
<!-- captions -->
<g font-size="21.2">
<text x="112.95" y="368.8" textLength="85.85" lengthAdjust="spacingAndGlyphs">Elektrode</text>
<text x="205.75" y="368.8" textLength="27.73" lengthAdjust="spacingAndGlyphs">ligt</text>
<text x="240.05" y="368.8" textLength="33.91" lengthAdjust="spacingAndGlyphs">aan</text>
<text x="279.05" y="368.8" textLength="22.38" lengthAdjust="spacingAndGlyphs">de</text>
<text x="305.95" y="368.8" textLength="98.87" lengthAdjust="spacingAndGlyphs">buitenkant</text>
<text x="153.40" y="395.5" textLength="31.36" lengthAdjust="spacingAndGlyphs">van</text>
<text x="190.38" y="395.5" textLength="22.33" lengthAdjust="spacingAndGlyphs">de</text>
<text x="219.10" y="395.5" textLength="146.18" lengthAdjust="spacingAndGlyphs">linkerhartkamer</text>
<text x="617.55" y="368.8" textLength="85.88" lengthAdjust="spacingAndGlyphs">Elektrode</text>
<text x="710.35" y="368.8" textLength="27.73" lengthAdjust="spacingAndGlyphs">ligt</text>
<text x="744.50" y="368.8" textLength="16.73" lengthAdjust="spacingAndGlyphs">in</text>
<text x="765.95" y="368.8" textLength="28.37" lengthAdjust="spacingAndGlyphs">het</text>
<text x="801.65" y="368.8" textLength="108.80" lengthAdjust="spacingAndGlyphs">tussenschot</text>
<text x="651.65" y="395.5" textLength="59.84" lengthAdjust="spacingAndGlyphs">tussen</text>
<text x="716.15" y="395.5" textLength="51.69" lengthAdjust="spacingAndGlyphs">beide</text>
<text x="773.15" y="395.5" textLength="105.19" lengthAdjust="spacingAndGlyphs">hartkamers</text>
</g>
</svg>
</body>
</html>
